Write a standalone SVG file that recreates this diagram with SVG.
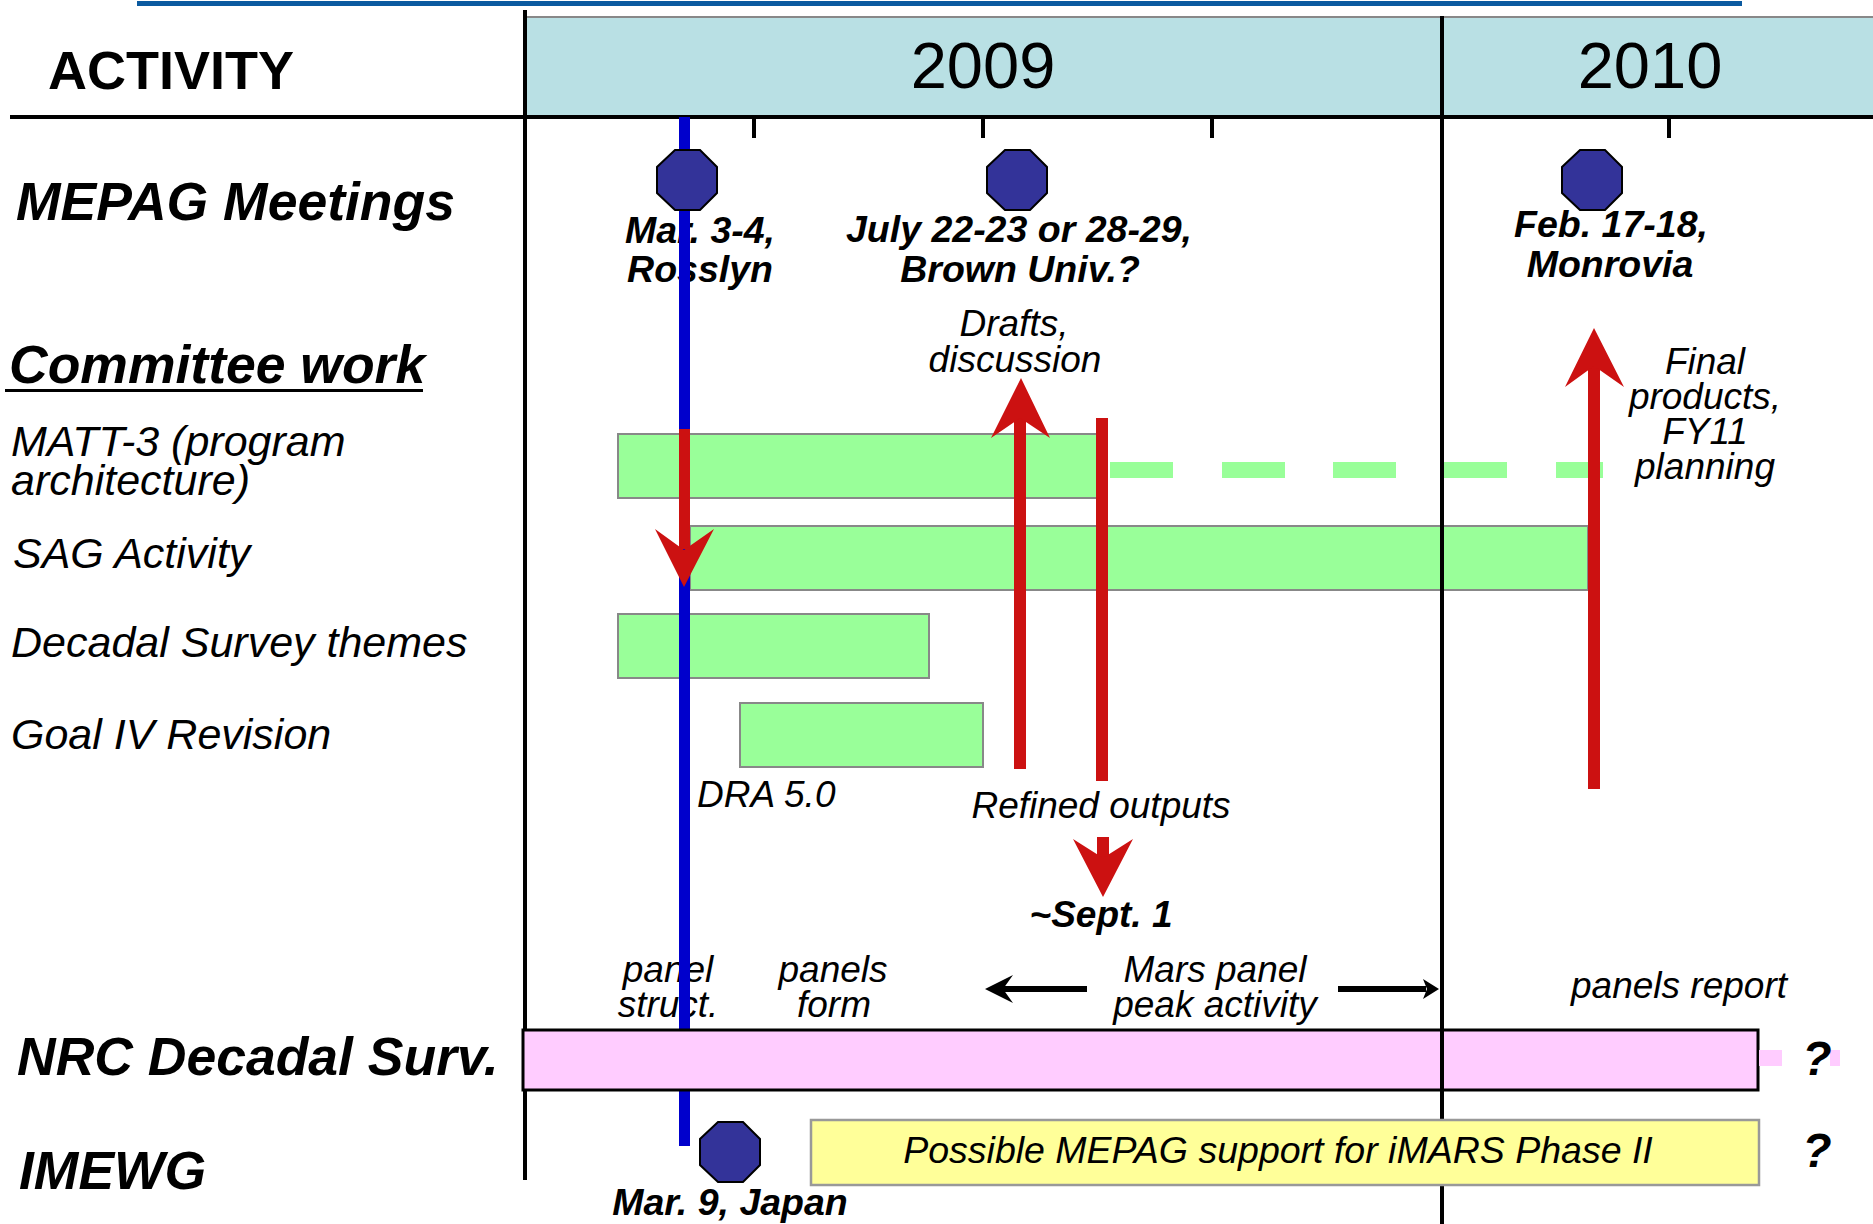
<svg xmlns="http://www.w3.org/2000/svg" xmlns:xlink="http://www.w3.org/1999/xlink" width="1873" height="1224" viewBox="0 0 1873 1224">
<defs>
<style>
.t{font-family:"Liberation Sans",Arial,sans-serif;fill:#000}
.bi{font-weight:bold;font-style:italic}
.i{font-style:italic}
.m{text-anchor:middle}
.bar{fill:#99FF99;stroke:#888;stroke-width:2}
.dash{fill:#99FF99}
.oct{fill:#333399;stroke:#000;stroke-width:2}
.red{fill:#CC1111}
.ax{stroke:#000;stroke-width:4;fill:none}
.blk{fill:#000}
</style>
<polygon id="octa" points="-12,-30 13,-30 30,-13 30,13 13,30 -12,30 -30,13 -30,-13"/>
</defs>
<rect x="0" y="0" width="1873" height="1224" fill="#fff"/>
<rect x="137" y="1" width="1605" height="5" fill="#0B5AA0"/>
<g id="header">
<rect x="526" y="17" width="1347" height="100" fill="#B9E0E4"/>
<line x1="526" y1="17" x2="1873" y2="17" stroke="#888" stroke-width="2"/>
<text class="t" x="48" y="89" font-size="54" font-weight="bold">ACTIVITY</text>
<text class="t m" x="983" y="88" font-size="65">2009</text>
<text class="t m" x="1650" y="88" font-size="65">2010</text>
</g>
<g id="axes">
<line class="ax" x1="525" y1="10" x2="525" y2="1180"/>
<line class="ax" x1="10" y1="117" x2="1873" y2="117"/>
<line class="ax" x1="754" y1="117" x2="754" y2="138"/>
<line class="ax" x1="983" y1="117" x2="983" y2="138"/>
<line class="ax" x1="1212" y1="117" x2="1212" y2="138"/>
<line class="ax" x1="1669" y1="117" x2="1669" y2="138"/>
</g>
<g id="row-labels">
<text class="t bi" x="16" y="220" font-size="53.5">MEPAG Meetings</text>
<text class="t bi" x="9" y="383" font-size="53.5">Committee work</text>
<rect x="5" y="389" width="418" height="3" fill="#000"/>
<text class="t i" x="11" y="456" font-size="43">MATT-3 (program</text>
<text class="t i" x="11" y="495" font-size="43">architecture)</text>
<text class="t i" x="13" y="568" font-size="43">SAG Activity</text>
<text class="t i" x="11" y="657" font-size="43">Decadal Survey themes</text>
<text class="t i" x="11" y="749" font-size="43">Goal IV Revision</text>
<text class="t bi" x="17" y="1075" font-size="53.5">NRC Decadal Surv.</text>
<text class="t bi" x="19" y="1189" font-size="53.5">IMEWG</text>
</g>
<g id="bar-matt3">
<rect class="bar" x="618" y="434" width="479" height="64"/>
<rect class="dash" x="1110" y="462" width="63" height="16"/>
<rect class="dash" x="1222" y="462" width="63" height="16"/>
<rect class="dash" x="1333" y="462" width="63" height="16"/>
<rect class="dash" x="1444" y="462" width="63" height="16"/>
<rect class="dash" x="1556" y="462" width="47" height="16"/>
</g>
<g id="bar-sag"><rect class="bar" x="690" y="526" width="898" height="64"/></g>
<g id="bar-decadal"><rect class="bar" x="618" y="614" width="311" height="64"/></g>
<g id="bar-goal4"><rect class="bar" x="740" y="703" width="243" height="64"/></g>
<g id="meeting-labels">
<text class="t bi m" x="700" y="243" font-size="37.5">Mar. 3-4,</text>
<text class="t bi m" x="700" y="282" font-size="37.5">Rosslyn</text>
<text class="t bi m" x="1019" y="242" font-size="37.5">July 22-23 or 28-29,</text>
<text class="t bi m" x="1020" y="282" font-size="37.5">Brown Univ.?</text>
<text class="t bi m" x="1611" y="237" font-size="37.5">Feb. 17-18,</text>
<text class="t bi m" x="1610" y="277" font-size="37.5">Monrovia</text>
<text class="t i m" x="668" y="982" font-size="37">panel</text>
<text class="t i m" x="668" y="1017" font-size="37">struct.</text>
</g>
<rect id="blue-line" x="679" y="117" width="11" height="1029" fill="#0000CC"/>
<g id="nrc-bar">
<rect x="523" y="1030" width="1235" height="60" fill="#FFCCFF" stroke="#000" stroke-width="3"/>
<rect x="1759" y="1050" width="23" height="16" fill="#FFCCFF"/>
<rect x="1830" y="1050" width="10" height="16" fill="#FFCCFF"/>
<text class="t bi m" x="1817" y="1075" font-size="48">?</text>
</g>
<line class="ax" x1="1442" y1="16" x2="1442" y2="1224"/>
<g id="imars-bar">
<rect x="811" y="1120" width="948" height="65" fill="#FFFF99" stroke="#999" stroke-width="2.5"/>
<text class="t i m" x="1278" y="1163" font-size="37.5">Possible MEPAG support for iMARS Phase II</text>
<text class="t bi m" x="1817" y="1167" font-size="48">?</text>
</g>
<g id="meeting-mar">
<use href="#octa" xlink:href="#octa" class="oct" x="687" y="180"/>
</g>
<g id="meeting-july"><use href="#octa" xlink:href="#octa" class="oct" x="1017" y="180"/></g>
<g id="meeting-feb"><use href="#octa" xlink:href="#octa" class="oct" x="1592" y="180"/></g>
<g id="meeting-imewg">
<use href="#octa" xlink:href="#octa" class="oct" x="730" y="1152"/>
<text class="t bi m" x="730" y="1215" font-size="37.5">Mar. 9, Japan</text>
</g>
<g id="connectors">
<rect class="red" x="679" y="429" width="11" height="120"/>
<polygon class="red" points="655,529 684,587 714,529 684,550"/>
<rect class="red" x="1014" y="415" width="12" height="354"/>
<polygon class="red" points="1021,378 1050,438 1020,418 991,438"/>
<rect class="red" x="1096" y="418" width="12" height="363"/>
<rect class="red" x="1097" y="837" width="12" height="23"/>
<polygon class="red" points="1073,839 1103,897 1133,839 1103,858"/>
<rect class="red" x="1588" y="365" width="12" height="424"/>
<polygon class="red" points="1594,328 1624,387 1594,366 1565,387"/>
<line x1="1003" y1="989" x2="1087" y2="989" stroke="#000" stroke-width="6"/>
<polygon class="blk" points="985,989 1013,975 1003,989 1013,1003"/>
<line x1="1338" y1="989" x2="1426" y2="989" stroke="#000" stroke-width="6"/>
<polygon class="blk" points="1439,989 1423,979 1427,989 1423,999"/>
</g>
<g id="annotations">
<text class="t i m" x="1014" y="336" font-size="37">Drafts,</text>
<text class="t i m" x="1015" y="372" font-size="37">discussion</text>
<text class="t i m" x="1705" y="374" font-size="37">Final</text>
<text class="t i m" x="1705" y="409" font-size="37">products,</text>
<text class="t i m" x="1705" y="444" font-size="37">FY11</text>
<text class="t i m" x="1705" y="479" font-size="37">planning</text>
<text class="t i" x="697" y="807" font-size="37">DRA 5.0</text>
<text class="t i m" x="1101" y="818" font-size="37">Refined outputs</text>
<text class="t bi m" x="1101" y="927" font-size="37">~Sept. 1</text>
<text class="t i m" x="833" y="982" font-size="37">panels</text>
<text class="t i m" x="834" y="1017" font-size="37">form</text>
<text class="t i m" x="1215" y="982" font-size="37">Mars panel</text>
<text class="t i m" x="1215" y="1017" font-size="37">peak activity</text>
<text class="t i m" x="1679" y="998" font-size="37">panels report</text>
</g>
</svg>
